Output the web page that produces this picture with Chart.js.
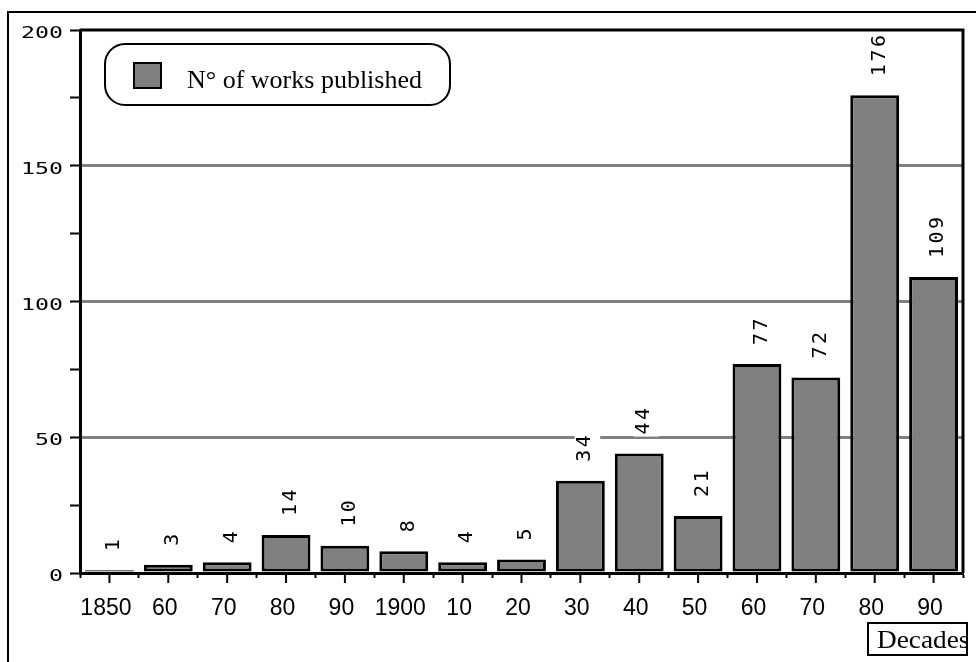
<!DOCTYPE html>
<html>
<head>
<meta charset="utf-8">
<script src="https://cdn.jsdelivr.net/npm/chart.js@4.4.0/dist/chart.umd.min.js"></script>
<style>
  html, body { margin: 0; padding: 0; background: #fff; }
</style>
</head>
<body>
<canvas id="chart" width="976" height="662"></canvas>
<script>
const decades = ['1850', '60', '70', '80', '90', '1900', '10', '20', '30', '40', '50', '60', '70', '80', '90'];
const works = [1, 3, 4, 14, 10, 8, 4, 5, 34, 44, 21, 77, 72, 176, 109];
const yLabels = [0, 50, 100, 150, 200];
const gridValues = [50, 100, 150];
const seriesName = 'N\u00b0 of works published';
const axisTitle = 'Decades';

const GREY = '#808080';

// frames, ticks, value labels, legend box, axis title
const decor = {
  id: 'decor',
  afterDatasetsDraw(chart) {
    const { ctx, chartArea: a, scales: { x, y } } = chart;
    ctx.save();
    ctx.strokeStyle = '#000';

    // outer frame
    ctx.lineWidth = 2;
    ctx.strokeRect(8, 12, 1100, 800);

    // top and right edge of plot
    ctx.lineWidth = 3;
    ctx.beginPath();
    ctx.moveTo(a.left, a.top);
    ctx.lineTo(a.right, a.top);
    ctx.lineTo(a.right, a.bottom);
    ctx.stroke();

    // long ticks under each bar
    ctx.lineWidth = 2;
    decades.forEach((d, i) => {
      const px = x.getPixelForValue(i);
      ctx.beginPath();
      ctx.moveTo(px, a.bottom);
      ctx.lineTo(px, a.bottom + 10);
      ctx.stroke();
    });

    // y tick labels (wide monospace)
    ctx.fillStyle = '#000';
    ctx.font = '15px "DejaVu Sans Mono"';
    ctx.textAlign = 'right';
    ctx.textBaseline = 'alphabetic';
    yLabels.forEach(v => {
      ctx.save();
      ctx.translate(63, y.getPixelForValue(v) + 8);
      ctx.scale(1.55, 1);
      ctx.fillText(String(v), 0, 0);
      ctx.restore();
    });

    // value labels above bars
    const meta = chart.getDatasetMeta(0);
    ctx.font = '20px "DejaVu Sans Mono"';
    ctx.letterSpacing = '2.5px';
    ctx.textAlign = 'left';
    meta.data.forEach((bar, i) => {
      const txt = String(works[i]);
      const w = ctx.measureText(txt).width;
      ctx.save();
      ctx.translate(bar.x + 2.5 + 7.3, bar.y - 19);
      ctx.rotate(-Math.PI / 2);
      ctx.fillStyle = '#fff';
      ctx.fillRect(-2, -15.5, w + 2, 25.5);
      ctx.fillStyle = '#000';
      ctx.fillText(txt, 0, 0);
      ctx.restore();
    });
    ctx.letterSpacing = '0px';

    // legend
    ctx.lineWidth = 2;
    ctx.beginPath();
    ctx.roundRect(105, 44, 345, 61, 20);
    ctx.fillStyle = '#fff';
    ctx.fill();
    ctx.stroke();
    ctx.fillStyle = GREY;
    ctx.fillRect(134, 63, 27, 25);
    ctx.strokeRect(134, 63, 27, 25);
    ctx.fillStyle = '#000';
    ctx.font = '26px "Liberation Serif"';
    ctx.textAlign = 'left';
    ctx.fillText(chart.data.datasets[0].label, 187, 88);

    // axis title box
    ctx.fillStyle = '#fff';
    ctx.fillRect(868, 623, 99, 32);
    ctx.save();
    ctx.beginPath();
    ctx.rect(868, 623, 99, 32);
    ctx.clip();
    ctx.fillStyle = '#000';
    ctx.font = '26px "Liberation Serif"';
    ctx.translate(877, 648);
    ctx.scale(1.05, 1);
    ctx.fillText(axisTitle, 0, 0);
    ctx.restore();
    ctx.strokeRect(868, 623, 99, 32);

    ctx.restore();
  }
};

new Chart(document.getElementById('chart'), {
  type: 'bar',
  data: {
    labels: decades,
    datasets: [{
      label: seriesName,
      data: works,
      backgroundColor: GREY,
      borderColor: '#000',
      borderWidth: 3,
      borderSkipped: false,
      barPercentage: 0.83,
      categoryPercentage: 1
    }]
  },
  options: {
    responsive: false,
    animation: false,
    layout: { padding: { left: 0, top: 30, right: 13, bottom: 0 } },
    plugins: {
      legend: { display: false },
      tooltip: { enabled: false }
    },
    scales: {
      x: {
        afterFit(scale) { scale.height = 89; },
        border: { color: '#000', width: 3 },
        grid: {
          offset: true,
          drawOnChartArea: false,
          tickLength: 5,
          tickWidth: 2,
          tickColor: '#000'
        },
        ticks: {
          color: '#000',
          font: { family: '"Liberation Sans"', size: 23 },
          padding: 17,
          labelOffset: -3.5,
          maxRotation: 0,
          autoSkip: false
        }
      },
      y: {
        min: 0,
        max: 200,
        afterFit(scale) { scale.width = 80; },
        border: { color: '#000', width: 3 },
        grid: {
          color: c => gridValues.includes(c.tick.value) ? GREY : 'rgba(0,0,0,0)',
          lineWidth: 3,
          tickLength: 10,
          tickWidth: 2,
          tickColor: '#000'
        },
        ticks: {
          stepSize: 25,
          display: false
        }
      }
    }
  },
  plugins: [decor]
});
</script>
</body>
</html>
